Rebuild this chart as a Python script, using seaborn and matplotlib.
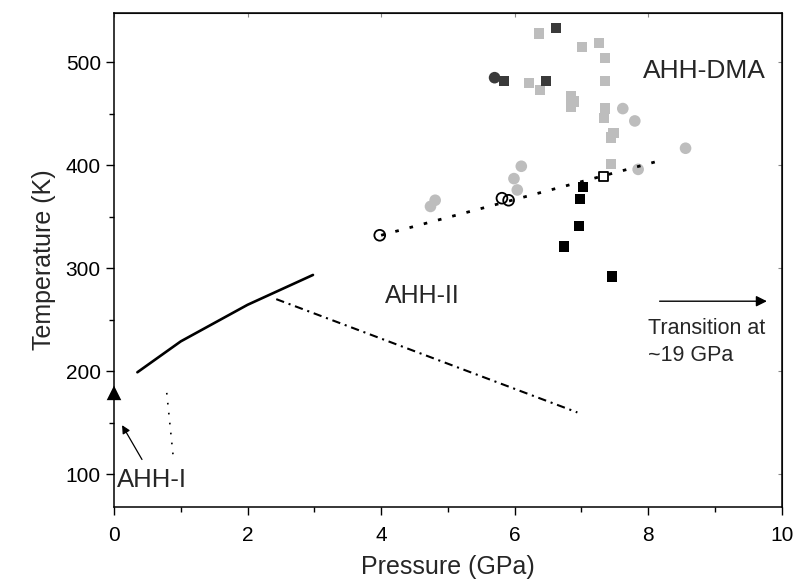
import numpy as np
import pandas as pd
import matplotlib
matplotlib.use("Agg")
import matplotlib.pyplot as plt
import seaborn as sns
from matplotlib.ticker import MultipleLocator

# Light grey squares
lg_sq_p = [6.37, 7.01, 7.26, 7.35, 6.22, 6.38, 7.35, 6.84, 6.89, 6.84, 7.35, 7.34, 7.48, 7.44, 7.44]
lg_sq_t = [528, 515, 519, 504, 480, 473, 482, 467, 462, 457, 455, 446, 431, 427, 401]

# Dark grey squares + circle
dg_sq_p = [6.62, 5.84, 6.47]
dg_sq_t = [533, 482, 482]
dg_ci_p = [5.70]
dg_ci_t = [485]

# Light grey circles
lg_ci_p = [7.62, 7.80, 6.10, 5.99, 6.04, 4.81, 4.74, 7.85, 8.56]
lg_ci_t = [455, 443, 399, 387, 376, 366, 360, 396, 416.5]

# Open symbols on the dotted boundary
open_ci_p = [3.98, 5.81, 5.91]
open_ci_t = [332, 368, 366]
open_sq_p = [7.33]
open_sq_t = [389]

# Black squares
bk_sq_p = [7.02, 6.98, 6.96, 6.74, 7.46]
bk_sq_t = [379, 367, 341, 321, 292]

# Triangle (AHH-I at ambient pressure)
tri_p = [0.0]
tri_t = [179]

# Boundaries
solid_p = [0.35, 1.0, 2.0, 2.98]
solid_t = [199, 229, 264.5, 293.5]
dashdot_p = [2.43, 6.94]
dashdot_t = [270, 160]
dotted_p = [4.0, 8.15]
dotted_t = [332, 404]
vdot_p = [0.79, 0.89]
vdot_t = [179, 115]

sns.set_style("ticks")
plt.rcParams['font.family'] = ['Liberation Sans', 'DejaVu Sans']

fig = plt.figure(figsize=(7.94, 5.88), dpi=100)
ax = fig.add_axes([114 / 794, 1 - 506.7 / 588, (781.7 - 114) / 794, (506.7 - 13.3) / 588])

# boundary lines
sns.lineplot(x=solid_p, y=solid_t, color="black", linewidth=1.9, sort=False, estimator=None, ax=ax)
sns.lineplot(x=dashdot_p, y=dashdot_t, color="black", linewidth=1.5, sort=False, estimator=None, ax=ax).lines[-1].set_dashes([4, 2.3, 1, 2.3])
sns.lineplot(x=dotted_p, y=dotted_t, color="black", linewidth=2, sort=False, estimator=None, ax=ax).lines[-1].set_dashes([1.3, 4])
sns.lineplot(x=vdot_p, y=vdot_t, color="black", linewidth=1.2, sort=False, estimator=None, ax=ax).lines[-1].set_dashes([1, 5])

# points
sns.scatterplot(x=lg_sq_p, y=lg_sq_t, marker="s", s=55, color="#bdbdbd", edgecolor="none", ax=ax)
sns.scatterplot(x=lg_ci_p, y=lg_ci_t, marker="o", s=70, color="#bdbdbd", edgecolor="none", ax=ax)
sns.scatterplot(x=dg_sq_p, y=dg_sq_t, marker="s", s=55, color="#3a3a3a", edgecolor="none", ax=ax)
sns.scatterplot(x=dg_ci_p, y=dg_ci_t, marker="o", s=70, color="#3a3a3a", edgecolor="none", ax=ax)
sns.scatterplot(x=bk_sq_p, y=bk_sq_t, marker="s", s=55, color="black", edgecolor="none", ax=ax)
sns.scatterplot(x=open_ci_p, y=open_ci_t, marker="o", s=60, facecolor="none", edgecolor="black", linewidth=1.3, ax=ax)
sns.scatterplot(x=open_sq_p, y=open_sq_t, marker="s", s=40, facecolor="none", edgecolor="black", linewidth=1.3, ax=ax)
sns.scatterplot(x=tri_p, y=tri_t, marker="^", s=110, color="black", edgecolor="none", ax=ax, clip_on=False, zorder=5)

# phase labels
ax.text(0.04, 94, "AHH-I", fontsize=18.5, va="center", ha="left")
ax.text(4.06, 273, "AHH-II", fontsize=18, va="center", ha="left")
ax.text(7.92, 491, "AHH-DMA", fontsize=19, va="center", ha="left")
ax.annotate("", xy=(0.10, 150), xytext=(0.44, 112),
            arrowprops=dict(arrowstyle="-|>", color="black", lw=0.9, mutation_scale=12))
ax.annotate("", xy=(9.82, 268), xytext=(8.13, 268),
            arrowprops=dict(arrowstyle="-|>", color="black", lw=1.0, mutation_scale=16))
ax.text(8.0, 252, "Transition at\n~19 GPa", fontsize=15.5, va="top", ha="left", linespacing=1.4)

ax.set_xlim(0, 10)
ax.set_ylim(68.5, 547.5)
ax.xaxis.set_major_locator(MultipleLocator(2))
ax.xaxis.set_minor_locator(MultipleLocator(1))
ax.yaxis.set_major_locator(MultipleLocator(100))
ax.yaxis.set_minor_locator(MultipleLocator(50))
ax.tick_params(which="major", direction="out", length=6, width=1, labelsize=15, color="black", labelcolor="black")
ax.tick_params(axis="x", which="major", pad=8)
ax.tick_params(which="minor", direction="out", length=3.5, width=1, color="black")
for sp in ax.spines.values():
    sp.set_visible(True)
    sp.set_linewidth(1.1)
    sp.set_color("black")

# small inward ticks on top/right
top = ax.secondary_xaxis("top")
top.xaxis.set_major_locator(MultipleLocator(2))
top.tick_params(direction="in", length=3, labeltop=False, color="#888888")
right = ax.secondary_yaxis("right")
right.yaxis.set_major_locator(MultipleLocator(100))
right.tick_params(direction="in", length=3, labelright=False, color="#888888")

ax.set_xlabel("Pressure (GPa)", fontsize=18, labelpad=7)
ax.set_ylabel("Temperature (K)", fontsize=18, labelpad=7)

fig.savefig("out.png", dpi=100)
